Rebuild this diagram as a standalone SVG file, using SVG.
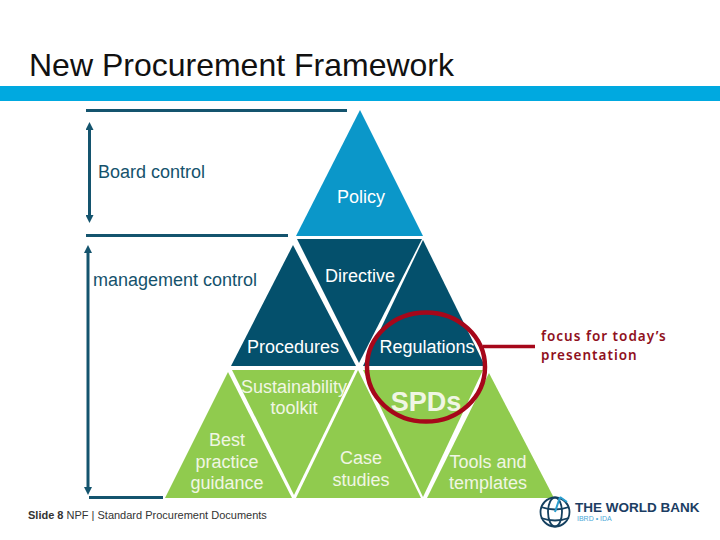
<svg xmlns="http://www.w3.org/2000/svg" width="720" height="540" viewBox="0 0 720 540">
<style>
text{font-family:"Liberation Sans",Arial,sans-serif}
.lab{font-size:18px;fill:#fff;text-anchor:middle}
.gl{font-size:18px;fill:#f0f6e4;text-anchor:middle}
.side{font-size:18px;fill:#15526c}
.blue{fill:#0b97c9}.dark{fill:#04506c}.green{fill:#90cb4e}
.rule{stroke:#14546e;stroke-width:3;fill:none}
.arr{stroke:#14546e;stroke-width:3;fill:none;marker-start:url(#ah);marker-end:url(#ah)}
.focus{font-family:"Noto Sans",sans-serif;font-size:13.500px;font-weight:600;fill:#8f1020;letter-spacing:1px}
</style>
<defs><marker id="ah" markerUnits="userSpaceOnUse" markerWidth="8" markerHeight="8" refX="3" refY="4" orient="auto-start-reverse"><path d="M0 0 8 4 0 8Z" fill="#14546e"/></marker></defs>
<rect width="720" height="540" fill="#fff"/>
<text x="29" y="76" font-size="32" fill="#111">New Procurement Framework</text>
<rect x="0" y="86" width="720" height="15" fill="#00a9e0"/>
<g id="connectors">
<path class="rule" d="M86 110.500H347M86 235.500H288M89 497.500H163"/>
<path class="arr" d="M89.500 127V218"/>
<path class="arr" d="M88 250V490"/>
<path d="M483 346.500H535" stroke="#a6071a" stroke-width="3.500" fill="none"/>
</g>
<g id="policy"><path class="blue" d="M360 110 423 236H296Z"/><text class="lab" x="361" y="203">Policy</text></g>
<g id="directive"><path class="dark" d="M297 239H422L359 363Z"/><text class="lab" x="360" y="282">Directive</text></g>
<g id="procedures"><path class="dark" d="M293 245 356 366H231Z"/><text class="lab" x="293" y="353">Procedures</text></g>
<g id="regulations"><path class="dark" d="M423 240 485 366H363Z"/><text class="lab" x="427" y="353">Regulations</text></g>
<g id="sustainability"><path class="green" d="M232 370H355L294 495Z"/><text class="gl" x="294" y="393">Sustainability</text><text class="gl" x="294" y="414">toolkit</text></g>
<g id="best-practice"><path class="green" d="M228 372 292 498H165Z"/><text class="gl" x="227" y="446">Best</text><text class="gl" x="227" y="468">practice</text><text class="gl" x="227" y="489">guidance</text></g>
<g id="case-studies"><path class="green" d="M358 370 421 498H296Z"/><text class="gl" x="361" y="464">Case</text><text class="gl" x="361" y="486">studies</text></g>
<g id="spds"><path class="green" d="M363 370H483L423 497Z"/><text x="426" y="411" font-size="27" font-weight="700" fill="#f0f6e4" text-anchor="middle">SPDs</text></g>
<g id="tools"><path class="green" d="M489 373 554 498H427Z"/><text class="gl" x="488" y="468">Tools and</text><text class="gl" x="488" y="489">templates</text></g>
<ellipse id="focus-ring" cx="426" cy="367" rx="59" ry="54.500" fill="none" stroke="#a6071a" stroke-width="4.500"/>
<g id="labels">
<text class="side" x="98" y="178">Board control</text>
<text class="side" x="93" y="286">management control</text>
<text class="focus" x="541" y="341">focus for today’s</text>
<text class="focus" x="541" y="360">presentation</text>
<text x="28" y="519" font-size="11" fill="#333"><tspan font-weight="700">Slide 8</tspan> NPF | Standard Procurement Documents</text>
</g>
<g id="logo">
<g fill="none" stroke="#14405f" stroke-width="1.800"><circle cx="555" cy="512" r="14.500"/><ellipse cx="555" cy="512" rx="7" ry="14.500"/><path d="M541 507Q555 512 569 507M541 518Q555 523 569 518"/></g>
<path d="M560 497 L555 512M560 497l7 5" stroke="#2b9fd0" stroke-width="2" fill="none"/>
<text x="575" y="512" font-size="13.500" font-weight="700" fill="#1b3d63">THE WORLD BANK</text>
<text x="577" y="521" font-size="7" fill="#4aa8d8">IBRD • IDA</text>
</g>
</svg>
